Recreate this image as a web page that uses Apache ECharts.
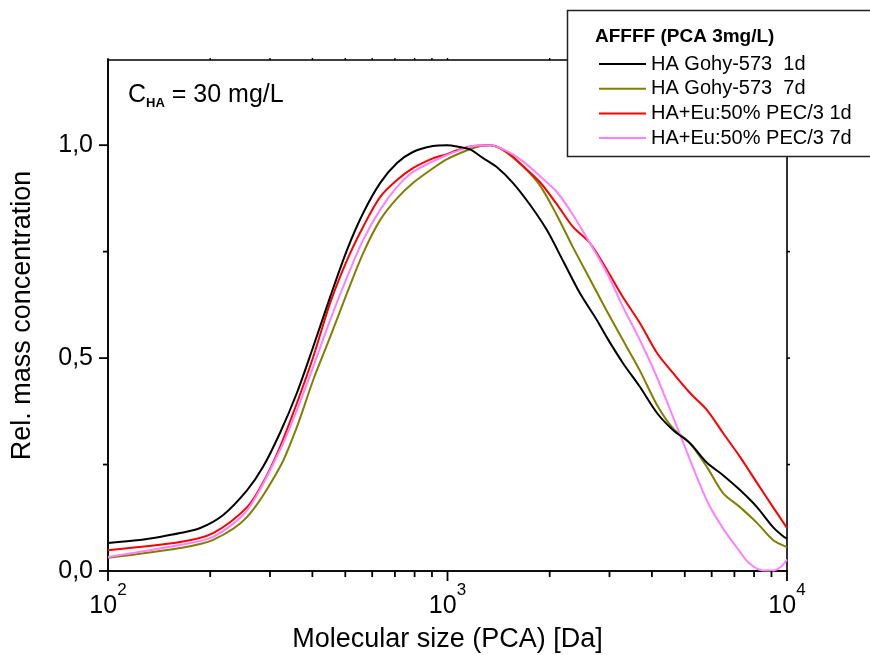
<!DOCTYPE html>
<html>
<head>
<meta charset="utf-8">
<script src="https://cdn.jsdelivr.net/npm/echarts@6/dist/echarts.min.js"></script>
<style>
html,body{margin:0;padding:0;background:#fff;}
#main{width:870px;height:655px;}
</style>
</head>
<body>
<div id="main"></div>
<script>
// ---- data ----
const seriesNames = ['HA Gohy-573  1d', 'HA Gohy-573  7d', 'HA+Eu:50% PEC/3 1d', 'HA+Eu:50% PEC/3 7d'];

const blackX = [100,124,142,163,187,218,257,286,321,360,402,451,506,564,633,710,791,906,997,1067,1165,1270,1399,1560,1750,1964,2200,2456,2750,2949,3288,3690,4141,4616,5180,5813,6480,7271,8158,9095,9800,10000];
const blackY = [0.066,0.073,0.080,0.089,0.101,0.131,0.190,0.244,0.324,0.418,0.526,0.643,0.754,0.840,0.911,0.958,0.984,0.998,1.000,0.997,0.990,0.970,0.948,0.911,0.860,0.800,0.725,0.652,0.590,0.548,0.488,0.432,0.371,0.331,0.300,0.254,0.225,0.190,0.150,0.103,0.080,0.077];

const oliveX = [100,163,204,257,321,360,402,451,506,564,633,710,791,889,997,1143,1250,1330,1428,1669,1873,2101,2343,2628,2949,3288,3690,4141,4616,5180,5813,6480,7271,8158,9095,10000];
const oliveY = [0.031,0.054,0.073,0.127,0.244,0.338,0.448,0.549,0.653,0.746,0.824,0.875,0.911,0.941,0.967,0.988,0.998,1.000,0.993,0.950,0.905,0.835,0.760,0.685,0.610,0.542,0.470,0.390,0.335,0.300,0.244,0.183,0.150,0.113,0.073,0.056];

const redX = [100,163,204,257,286,321,360,402,451,506,564,633,710,791,906,997,1067,1189,1335,1497,1669,1873,2101,2343,2628,2949,3288,3690,4141,4616,5180,5813,6480,7271,8158,9095,10000];
const redY = [0.049,0.068,0.089,0.150,0.207,0.291,0.394,0.502,0.629,0.730,0.808,0.878,0.918,0.946,0.969,0.979,0.988,0.998,1.000,0.984,0.951,0.913,0.861,0.808,0.770,0.707,0.643,0.582,0.512,0.465,0.418,0.378,0.324,0.268,0.207,0.150,0.101];

const pinkX = [100,163,204,257,321,360,402,451,506,564,633,710,791,906,997,1067,1189,1335,1497,1669,1873,2101,2343,2628,2949,3288,3690,4141,4616,5180,5813,6480,7271,7700,8400,9095,9600,10000];
const pinkY = [0.033,0.061,0.080,0.143,0.284,0.378,0.479,0.589,0.690,0.777,0.848,0.902,0.937,0.962,0.977,0.986,0.998,1.000,0.986,0.962,0.927,0.890,0.836,0.770,0.700,0.620,0.542,0.455,0.362,0.261,0.165,0.100,0.045,0.020,0.002,0.001,0.010,0.027];

const xMajorTicks = [100, 1000, 10000];
const xMinorTicks = [200,300,400,500,600,700,800,900,2000,3000,4000,5000,6000,7000,8000,9000];
const yMajorTicks = [0, 0.5, 1.0];
const yMinorTicks = [0.25, 0.75];
const yRightTicks = [0.25, 0.5, 0.75, 1.0];

const legendTitle = 'AFFFF (PCA 3mg/L)';
const xTitle = 'Molecular size (PCA) [Da]';
const yTitle = 'Rel. mass concentration';

// ---- chart ----
const FONT = '"Liberation Sans", Arial, Helvetica, sans-serif';
const colors = ['#000000', '#808000', '#ff0000', '#ff80ff'];
const xs = [blackX, oliveX, redX, pinkX];
const ys = [blackY, oliveY, redY, pinkY];
const X_MIN = 100, X_MAX = 10000, Y_MIN = 0, Y_MAX = 1.2;

function pairs(x, y) { return x.map((v, i) => [v, y[i]]); }

const chart = echarts.init(document.getElementById('main'), null, {renderer: 'canvas'});

const axisLineStyle = {color: '#000', width: 1.6};

const option = {
  backgroundColor: '#fff',
  animation: false,
  grid: {left: 108, right: 83, top: 60, bottom: 84, containLabel: false, outerBoundsMode: 'none',
         show: true, borderColor: '#000', borderWidth: 1.6},
  xAxis: [
    {
      type: 'log', logBase: 10, min: X_MIN, max: X_MAX, position: 'bottom',
      axisLine: {show: true, onZero: false, lineStyle: axisLineStyle},
      axisTick: {show: false},
      axisLabel: {
        show: true, margin: 11,
        formatter: v => '{b|10}{s|' + Math.round(Math.log10(v)) + '}',
        rich: {
          b: {fontSize: 25, fontFamily: FONT, color: '#000', lineHeight: 48},
          s: {fontSize: 17, fontFamily: FONT, color: '#000', lineHeight: 17, verticalAlign: 'top'}
        }
      },
      splitLine: {show: false},
      name: xTitle, nameLocation: 'middle', nameGap: 55,
      nameTextStyle: {fontSize: 27, fontFamily: FONT, color: '#000'}
    }
  ],
  yAxis: [
    {
      type: 'value', min: Y_MIN, max: Y_MAX, interval: 0.5, position: 'left',
      axisLine: {show: true, onZero: false, lineStyle: axisLineStyle},
      axisTick: {show: false},
      axisLabel: {
        show: true, margin: 15, showMaxLabel: false,
        formatter: v => (Math.abs(v * 2 - Math.round(v * 2)) < 1e-9 ? v.toFixed(1).replace('.', ',') : ''),
        fontSize: 25, fontFamily: FONT, color: '#000'
      },
      splitLine: {show: false},
      name: yTitle, nameLocation: 'middle', nameRotate: 90, nameGap: 72,
      nameTextStyle: {fontSize: 27, fontFamily: FONT, color: '#000'}
    }
  ],
  legend: {
    orient: 'vertical', left: 594, top: 49, z: 120,
    icon: 'rect', itemWidth: 47, itemHeight: 2, itemGap: 4.7,
    textStyle: {fontSize: 20, fontFamily: FONT, color: '#000', lineHeight: 20},
    data: seriesNames
  },
  series: seriesNames.map((name, i) => ({
    name: name, type: 'line', xAxisIndex: 0, yAxisIndex: 0,
    data: pairs(xs[i], ys[i]),
    showSymbol: false, smooth: 0.3, clip: true,
    lineStyle: {color: colors[i], width: 2},
    itemStyle: {color: colors[i]},
    z: 3 + (i === 0 ? 1 : 0)
  }))
};

chart.setOption(option);

// ---- overlay: tick marks (placed via the chart's own scales), legend box, annotation ----
const els = [];
function addTicks(points, dx, dy, width) {
  points.forEach(pt => {
    const p = chart.convertToPixel({xAxisIndex: 0, yAxisIndex: 0}, pt);
    els.push({
      type: 'line', z: 100, silent: true,
      shape: {x1: p[0], y1: p[1], x2: p[0] + dx, y2: p[1] + dy},
      style: {stroke: '#000', lineWidth: width}
    });
  });
}
addTicks(xMajorTicks.map(v => [v, Y_MIN]), 0, 10, 1.8);
addTicks(xMinorTicks.map(v => [v, Y_MIN]), 0, 6, 1.8);
addTicks(xMajorTicks.concat(xMinorTicks).map(v => [v, Y_MAX]), 0, -2, 1.4);
addTicks(yMajorTicks.map(v => [X_MIN, v]), -9, 0, 1.8);
addTicks(yMinorTicks.map(v => [X_MIN, v]), -5, 0, 1.8);
addTicks(yRightTicks.map(v => [X_MAX, v]), 3, 0, 1.6);

els.push(
  {
    type: 'rect', z: 110, silent: true,
    shape: {x: 567.5, y: 10.5, width: 320, height: 146},
    style: {fill: '#fff', stroke: '#222', lineWidth: 1.5}
  },
  {
    type: 'text', z: 121, silent: true, x: 595, y: 27,
    style: {text: legendTitle, fontSize: 19, fontWeight: 'bold', fontFamily: FONT, fill: '#000'}
  },
  {
    type: 'text', z: 121, silent: true, x: 128, y: 80,
    style: {
      text: '{c|C}{s|HA}{c| = 30 mg/L}',
      rich: {
        c: {fontSize: 25, fontFamily: FONT, fill: '#000', lineHeight: 30},
        s: {fontSize: 13, fontWeight: 'bold', fontFamily: FONT, fill: '#000', lineHeight: 12, verticalAlign: 'bottom'}
      }
    }
  }
);

chart.setOption({graphic: els});
</script>
</body>
</html>
